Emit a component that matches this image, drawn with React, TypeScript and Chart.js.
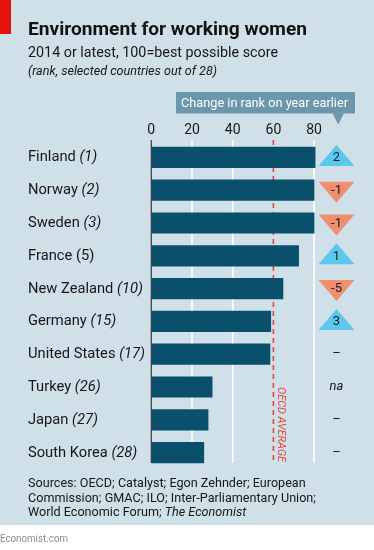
import React, { useEffect, useRef } from "react";
import { Chart, registerables } from "chart.js";

Chart.register(...registerables);

const countries = ["Finland", "Norway", "Sweden", "France", "New Zealand", "Germany", "United States", "Turkey", "Japan", "South Korea"];
const ranks = ["(1)", "(2)", "(3)", "(5)", "(10)", "(15)", "(17)", "(26)", "(27)", "(28)"];
const scores = [80.5, 80, 80, 72.4, 64.7, 58.7, 58.3, 29.9, 27.9, 25.8];
const rankChanges: (number | null)[] = [2, -1, -1, 1, -5, 3, 0, null, 0, 0];
const xTickValues = [0, 20, 40, 60, 80];
const oecdAverage = 60;
const oecdLabel = "OECD AVERAGE";

const titleText = "Environment for working women";
const subtitleText = "2014 or latest, 100=best possible score";
const noteText = "(rank, selected countries out of 28)";
const calloutText = "Change in rank on year earlier";
const sourceLines: { text: string; italic: boolean }[][] = [
  [{ text: "Sources: OECD; Catalyst; Egon Zehnder; European", italic: false }],
  [{ text: "Commission; GMAC; ILO; Inter-Parliamentary Union;", italic: false }],
  [
    { text: "World Economic Forum; ", italic: false },
    { text: "The Economist", italic: true },
  ],
];
const footerText = "Economist.com";

// style constants
const W = 374;
const H = 550;
const FONT = "Roboto, 'Noto Sans', sans-serif";
const BG = "#d0e0e9";
const BAR = "#0a4f6b";
const RED = "#e8453c";
const TEXT = "#161616";
const CALLOUT = "#6b96ac";
const UP = "#5cc7ef";
const DOWN = "#f08f6f";
const uprightRankFor = new Set(["France"]);

type Run = { text: string; font: string };

function drawRuns(ctx: CanvasRenderingContext2D, runs: Run[], x: number, y: number, target?: number, sxIn?: number) {
  let total = 0;
  const widths = runs.map((r) => {
    ctx.font = r.font;
    const w = ctx.measureText(r.text).width;
    total += w;
    return w;
  });
  const sx = sxIn ?? (target ? target / total : 1);
  ctx.save();
  ctx.translate(x, y);
  ctx.scale(sx, 1);
  let cx = 0;
  runs.forEach((r, i) => {
    ctx.font = r.font;
    ctx.fillText(r.text, cx, 0);
    cx += widths[i];
  });
  ctx.restore();
}

function measureRuns(ctx: CanvasRenderingContext2D, runs: Run[]) {
  let total = 0;
  runs.forEach((r) => {
    ctx.font = r.font;
    total += ctx.measureText(r.text).width;
  });
  return total;
}

const labelRuns = (i: number): Run[] => [
  { text: countries[i] + " ", font: `14px ${FONT}` },
  { text: ranks[i], font: `${uprightRankFor.has(countries[i]) ? "" : "italic "}14px ${FONT}` },
];

const decor = {
  id: "decor",
  beforeDraw(chart: any) {
    const ctx: CanvasRenderingContext2D = chart.ctx;
    ctx.save();
    ctx.fillStyle = "#ffffff";
    ctx.fillRect(0, 0, W, H);
    ctx.fillStyle = BG;
    ctx.fillRect(0, 0, W, 525);
    ctx.fillStyle = "#e3120b";
    ctx.fillRect(0, 0, 11, 34);

    ctx.textBaseline = "alphabetic";
    ctx.textAlign = "left";
    ctx.fillStyle = "#121212";
    drawRuns(ctx, [{ text: titleText, font: `bold 19px ${FONT}` }], 28, 35, 279);
    ctx.fillStyle = TEXT;
    drawRuns(ctx, [{ text: subtitleText, font: `14px ${FONT}` }], 28, 56.7, 250);
    drawRuns(ctx, [{ text: noteText, font: `italic 13px ${FONT}` }], 28, 74.5, 189);

    // callout
    ctx.fillStyle = CALLOUT;
    ctx.fillRect(176, 92, 179, 21.5);
    ctx.beginPath();
    ctx.moveTo(332.5, 113.3);
    ctx.lineTo(344, 113.3);
    ctx.lineTo(338.3, 124.5);
    ctx.closePath();
    ctx.fill();
    ctx.fillStyle = "#ffffff";
    drawRuns(ctx, [{ text: calloutText, font: `13.5px ${FONT}` }], 181, 107.3, 167);

    // sources
    ctx.fillStyle = TEXT;
    const srcRuns = sourceLines.map((line) =>
      line.map((r) => ({ text: r.text, font: `${r.italic ? "italic " : ""}13px ${FONT}` }))
    );
    const srcScale = 288 / measureRuns(ctx, srcRuns[1]);
    srcRuns.forEach((runs, i) => drawRuns(ctx, runs, 28, 486.7 + i * 14.8, undefined, srcScale));

    ctx.fillStyle = "#8c8c8c";
    drawRuns(ctx, [{ text: footerText, font: `10.5px ${FONT}` }], 0, 542.3, 68);
    ctx.restore();
  },
  beforeDatasetsDraw(chart: any) {
    const ctx: CanvasRenderingContext2D = chart.ctx;
    const x = chart.scales.x;
    const top = 140;
    const bottom = 463;
    ctx.save();
    ctx.strokeStyle = "#ffffff";
    ctx.lineWidth = 1.6;
    xTickValues.forEach((v) => {
      if (v === 0 || v === oecdAverage) return;
      const px = x.getPixelForValue(v);
      ctx.beginPath();
      ctx.moveTo(px, top);
      ctx.lineTo(px, bottom);
      ctx.stroke();
    });
    const ox = x.getPixelForValue(oecdAverage);
    ctx.strokeStyle = RED;
    ctx.lineWidth = 1.6;
    ctx.setLineDash([5, 4]);
    ctx.beginPath();
    ctx.moveTo(ox, top);
    ctx.lineTo(ox, bottom);
    ctx.stroke();
    ctx.restore();
  },
  afterDatasetsDraw(chart: any) {
    const ctx: CanvasRenderingContext2D = chart.ctx;
    const x = chart.scales.x;
    const y = chart.scales.y;
    ctx.save();
    // axis line at zero
    const zx = x.getPixelForValue(0);
    ctx.strokeStyle = "#3a3a3a";
    ctx.lineWidth = 1.2;
    ctx.beginPath();
    ctx.moveTo(zx, 140);
    ctx.lineTo(zx, 463);
    ctx.stroke();

    // country labels
    ctx.fillStyle = TEXT;
    ctx.textBaseline = "middle";
    ctx.textAlign = "left";
    const ref = countries.indexOf("United States");
    const labelScale = 117 / measureRuns(ctx, labelRuns(ref));
    countries.forEach((_, i) => {
      const cy = y.getPixelForValue(i);
      drawRuns(ctx, labelRuns(i), 28, cy + 0.5, undefined, labelScale);
    });

    // rank change column
    const colX = 336.5;
    rankChanges.forEach((c, i) => {
      const cy = y.getPixelForValue(i);
      ctx.textAlign = "center";
      ctx.textBaseline = "middle";
      if (c === null) {
        ctx.fillStyle = TEXT;
        ctx.font = `italic 13px ${FONT}`;
        ctx.fillText("na", colX, cy);
        return;
      }
      if (c === 0) {
        ctx.fillStyle = TEXT;
        ctx.font = `13px ${FONT}`;
        ctx.fillText("–", colX, cy);
        return;
      }
      ctx.beginPath();
      if (c > 0) {
        ctx.fillStyle = UP;
        ctx.moveTo(colX - 18, cy + 8.5);
        ctx.lineTo(colX + 18, cy + 8.5);
        ctx.lineTo(colX, cy - 12.5);
      } else {
        ctx.fillStyle = DOWN;
        ctx.moveTo(colX - 18, cy - 8.5);
        ctx.lineTo(colX + 18, cy - 8.5);
        ctx.lineTo(colX, cy + 12.5);
      }
      ctx.closePath();
      ctx.fill();
      ctx.fillStyle = "#1a1a2a";
      ctx.font = `13px ${FONT}`;
      ctx.fillText(String(c), colX, cy + 0.5);
    });

    // OECD average label (rotated)
    const ox = x.getPixelForValue(oecdAverage);
    ctx.fillStyle = RED;
    ctx.font = `italic 11.5px ${FONT}`;
    ctx.textAlign = "left";
    ctx.textBaseline = "alphabetic";
    const tw = ctx.measureText(oecdLabel).width;
    ctx.translate(ox + 4.5, 387);
    ctx.rotate(Math.PI / 2);
    ctx.scale(75 / tw, 1);
    ctx.fillText(oecdLabel, 0, 0);
    ctx.restore();
  },
};

export default function App() {
  const ref = useRef<HTMLCanvasElement | null>(null);
  useEffect(() => {
    if (!ref.current) return;
    const chart = new Chart(ref.current, {
      type: "bar",
      data: {
        labels: countries,
        datasets: [
          {
            data: scores,
            backgroundColor: BAR,
            borderWidth: 0,
            barThickness: 20.5,
          },
        ],
      },
      options: {
        indexAxis: "y",
        responsive: false,
        animation: false,
        devicePixelRatio: 1,
        layout: { padding: { left: 151.3, right: 19.2, top: 123, bottom: 81 } },
        plugins: { legend: { display: false }, tooltip: { enabled: false } },
        scales: {
          x: {
            type: "linear",
            position: "top",
            min: 0,
            max: 100,
            grid: { display: false, drawTicks: false },
            border: { display: false },
            ticks: {
              stepSize: 20,
              autoSkip: false,
              maxRotation: 0,
              padding: 2,
              color: "#161616",
              font: { family: FONT, size: 14 },
              callback: (v: any) => (xTickValues.includes(Number(v)) ? String(v) : ""),
            },
            afterFit: (s: any) => {
              s.height = 18;
            },
          },
          y: {
            type: "category",
            display: false,
          },
        },
      },
      plugins: [decor],
    } as any);
    return () => chart.destroy();
  }, []);
  return (
    <div style={{ position: "absolute", left: 0, top: 0, width: W, height: H }}>
      <canvas ref={ref} width={W} height={H} style={{ display: "block", width: W, height: H }} />
    </div>
  );
}
